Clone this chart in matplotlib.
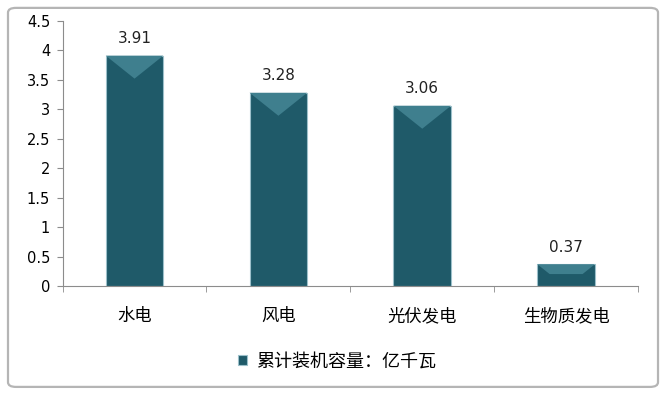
import matplotlib
matplotlib.use("Agg")
import matplotlib.pyplot as plt
from matplotlib.patches import Polygon, FancyBboxPatch

plt.rcParams['font.family'] = ['Noto Sans CJK SC', 'DejaVu Sans']

categories = ['水电', '风电', '光伏发电', '生物质发电']
values = [3.91, 3.28, 3.06, 0.37]
series_name = '累计装机容量：亿千瓦'
yticks = [0, 0.5, 1, 1.5, 2, 2.5, 3, 3.5, 4, 4.5]

bar_color = '#1f5a69'
bevel_color = '#3f7f8e'
axis_color = '#8c8c8c'

fig = plt.figure(figsize=(6.66, 3.94), dpi=100)

# chart frame
fig.patches.append(FancyBboxPatch((0.012, 0.018), 0.976, 0.962, boxstyle='round,pad=0,rounding_size=0.012',
                                  transform=fig.transFigure, facecolor='white', edgecolor='#b5b5b5',
                                  linewidth=1.6, zorder=-10))

ax = fig.add_axes([0.094, 0.274, 0.864, 0.673])
ax.patch.set_alpha(0)

x = list(range(len(categories)))
width = 0.4
bars = ax.bar(x, values, width=width, color=bar_color, edgecolor='#9cc0ca', linewidth=0.8,
              label=series_name, zorder=2)

# bevel on the top of each bar
depth = 0.39
for xi, v in zip(x, values):
    d = min(depth, v * 0.45)
    inset = width / 2 * d / depth
    x0, x1 = xi - width / 2, xi + width / 2
    ax.add_patch(Polygon([(x0, v), (x1, v), (x1 - inset, v - d), (x0 + inset, v - d)],
                         closed=True, facecolor=bevel_color, edgecolor='none', zorder=3))
    ax.annotate(f'{v:.2f}', (xi, v), xytext=(0, 7), textcoords='offset points',
                ha='center', va='bottom', fontsize=11, color='#222222', family='DejaVu Sans')

ax.set_xlim(-0.5, len(categories) - 0.5)
ax.set_ylim(0, 4.5)
ax.set_yticks(yticks)
ax.set_yticklabels([f'{t:g}' for t in yticks], fontsize=10.5, family='DejaVu Sans')
ax.set_xticks(x)
ax.set_xticklabels(categories, fontsize=12.5)
ax.set_xticks([i + 0.5 for i in range(-1, len(categories))], minor=True)
ax.tick_params(axis='x', which='major', length=0, pad=15)
ax.tick_params(axis='x', which='minor', length=4, color=axis_color, direction='out')
ax.tick_params(axis='y', length=4, color=axis_color, direction='out', pad=5)

for side in ['top', 'right']:
    ax.spines[side].set_visible(False)
for side in ['left', 'bottom']:
    ax.spines[side].set_color(axis_color)
    ax.spines[side].set_linewidth(0.8)

leg = fig.legend(handles=[bars], labels=[series_name], loc='center', bbox_to_anchor=(0.506, 0.082),
                 frameon=False, fontsize=13, handlelength=0.5, handleheight=0.5, handletextpad=0.5)

fig.savefig('out.png', dpi=100)
